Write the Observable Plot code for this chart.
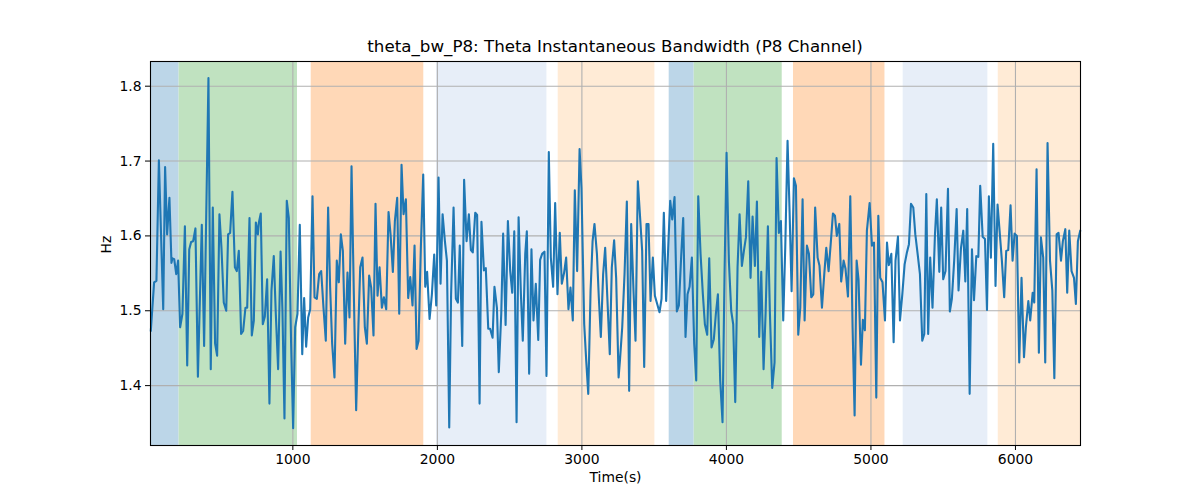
<!DOCTYPE html>
<html>
<head>
<meta charset="utf-8">
<script src="https://cdn.jsdelivr.net/npm/d3@7"></script>
<script src="https://cdn.jsdelivr.net/npm/@observablehq/plot@0.6"></script>
<style>
  body { margin: 0; background: white; font-family: "DejaVu Sans", sans-serif; }
  #wrap { width: 1200px; height: 500px; position: relative; }
  #title { position: absolute; left: 150px; width: 930px; top: 36px; text-align: center;
           font-size: 16.7px; line-height: 20px; color: black; }
  #chart { position: absolute; left: 0; top: 60px; }
</style>
</head>
<body>
<div id="wrap">
  <div id="title">theta_bw_P8: Theta Instantaneous Bandwidth (P8 Channel)</div>
  <div id="chart"></div>
</div>
<script>
const titleText = "theta_bw_P8: Theta Instantaneous Bandwidth (P8 Channel)";
const xLabel = "Time(s)";
const yLabel = "Hz";
const xTicks = [1000, 2000, 3000, 4000, 5000, 6000];
const yTicks = [1.4, 1.5, 1.6, 1.7, 1.8];
const xDomain = [15, 6450];
const yDomain = [1.32, 1.833];

const times = [
17,40,56,73,103,116,130,146,160,167,179,193,206,220,236,253,269,283,296,310,326,343,370,386,416,432,446,462,476,492,506,522,539,552,566,582,599,612,626,642,656,
672,684,700,716,730,744,758,765,778,792,806,822,838,852,868,882,898,915,928,942,958,972,988,1002,1016,1032,1048,1065,1078,1092,1106,1120,1136,1150,1166,1182,1196,1212,1228,1244,1258,1272,1288,1304,
1318,1332,1346,1362,1378,1392,1406,1422,1438,1454,1466,1482,1498,1512,1528,1542,1558,1572,1586,1600,1616,1630,1646,1662,1676,1692,1706,1722,1736,1752,1766,1782,1798,1812,1828,1842,1856,1870,1886,1902,1916,1929,1946,
1962,1978,1992,2008,2022,2036,2052,2066,2082,2095,2112,2128,2142,2155,2172,2185,2202,2218,2232,2245,2262,2275,2292,2305,2322,2335,2352,2365,2382,2395,2412,2425,2442,2455,2472,2488,2504,2518,2532,2548,2562,2578,2591,2608,
2619,2635,2651,2665,2681,2698,2711,2725,2741,2755,2771,2785,2801,2815,2831,2847,2861,2877,2891,2907,2921,2937,2951,2967,2984,2997,3016,3030,3044,3060,3074,3087,3104,3117,3131,3147,3161,3177,3193,3207,3223,3237,3254,
3263,3279,3295,3311,3327,3341,3357,3371,3387,3403,3417,3431,3447,3461,3475,3491,3505,3521,3537,3551,3567,3583,3599,3611,3625,3641,3657,3671,3687,3701,3717,3731,3745,3761,3777,3791,3805,3821,3837,3851,3867,3881,3897,
3913,3927,3941,3957,3973,3987,4001,4017,4033,4047,4061,4077,4091,4107,4121,4135,4151,4167,4181,4197,4211,4227,4241,4257,4271,4287,4301,4317,4333,4347,4363,4377,4393,4407,4423,4437,4451,4467,4481,4497,4511,4527,4541,4557,
4571,4587,4601,4614,4631,4644,4661,4677,4691,4707,4723,4737,4751,4764,4781,4794,4811,4824,4841,4857,4873,4887,4901,4914,4931,4944,4958,4972,4991,5007,5021,5037,5051,5064,5080,5097,5111,5124,5141,5157,5170,5187,5201,
5217,5233,5249,5263,5277,5293,5307,5323,5339,5355,5369,5383,5396,5410,5426,5443,5456,5473,5486,5500,5516,5533,5546,5560,5576,5593,5606,5623,5639,5653,5666,5683,5699,5713,5729,5743,5756,5773,5789,5803,5816,5830,5846,5862,
5876,5892,5906,5922,5936,5950,5966,5980,5994,6010,6026,6042,6059,6072,6089,6102,6119,6130,6146,6162,6176,6192,6206,6222,6239,6255,6269,6285,6298,6315,6328,6345,6358,6372,6388,6405,6418,6432,6448
];

const values = [
1.473,1.538,1.540,1.701,1.502,1.692,1.602,1.651,1.564,1.570,1.569,1.549,1.567,1.478,1.496,1.613,1.427,1.582,1.592,1.593,1.610,1.412,1.615,1.453,1.811,1.422,1.638,1.456,1.440,1.629,1.584,1.511,1.500,1.602,1.604,1.659,1.558,1.553,1.580,1.469,1.473,
1.504,1.504,1.624,1.467,1.487,1.618,1.602,1.618,1.630,1.482,1.492,1.542,1.376,1.527,1.573,1.496,1.422,1.579,1.500,1.356,1.647,1.624,1.456,1.343,1.478,1.496,1.615,1.442,1.517,1.452,1.491,1.502,1.653,1.518,1.516,1.549,1.553,1.504,1.460,1.638,1.531,1.456,1.411,1.567,
1.538,1.602,1.580,1.456,1.551,1.491,1.693,1.522,1.367,1.482,1.558,1.571,1.478,1.456,1.547,1.531,1.467,1.643,1.520,1.558,1.504,1.518,1.502,1.632,1.602,1.552,1.620,1.651,1.496,1.695,1.629,1.649,1.517,1.545,1.507,1.587,1.449,1.460,1.587,1.682,1.532,1.552,1.489,
1.522,1.575,1.507,1.678,1.536,1.629,1.593,1.567,1.344,1.522,1.638,1.516,1.511,1.587,1.453,1.675,1.593,1.629,1.581,1.578,1.631,1.628,1.376,1.619,1.554,1.557,1.476,1.476,1.464,1.532,1.504,1.418,1.496,1.603,1.481,1.620,1.553,1.524,1.606,1.351,1.625,1.522,1.460,1.576,
1.606,1.416,1.582,1.487,1.536,1.461,1.568,1.576,1.579,1.413,1.712,1.571,1.532,1.644,1.522,1.604,1.536,1.551,1.571,1.502,1.531,1.487,1.661,1.553,1.716,1.664,1.482,1.433,1.389,1.527,1.593,1.616,1.576,1.518,1.465,1.549,1.584,1.513,1.442,1.558,1.594,1.544,1.411,
1.433,1.478,1.549,1.646,1.393,1.616,1.527,1.460,1.673,1.624,1.580,1.425,1.616,1.616,1.513,1.571,1.520,1.509,1.498,1.516,1.631,1.513,1.593,1.647,1.622,1.652,1.499,1.507,1.573,1.624,1.465,1.522,1.532,1.571,1.456,1.407,1.653,1.576,1.522,1.482,1.468,1.570,1.451,
1.462,1.496,1.522,1.407,1.351,1.549,1.711,1.567,1.500,1.482,1.378,1.558,1.629,1.560,1.580,1.598,1.673,1.544,1.626,1.560,1.646,1.465,1.552,1.422,1.496,1.613,1.496,1.397,1.431,1.704,1.604,1.620,1.487,1.584,1.727,1.633,1.526,1.677,1.667,1.468,1.504,1.649,1.487,1.587,
1.576,1.518,1.522,1.638,1.571,1.560,1.504,1.549,1.584,1.553,1.593,1.630,1.627,1.600,1.616,1.539,1.567,1.556,1.519,1.653,1.478,1.360,1.567,1.542,1.428,1.488,1.474,1.607,1.644,1.587,1.591,1.384,1.627,1.544,1.538,1.487,1.591,1.561,1.576,1.458,1.567,1.599,1.487,
1.522,1.562,1.578,1.589,1.643,1.638,1.602,1.576,1.549,1.460,1.469,1.656,1.469,1.571,1.504,1.602,1.649,1.552,1.638,1.542,1.553,1.663,1.499,1.516,1.567,1.636,1.527,1.584,1.607,1.539,1.636,1.389,1.582,1.514,1.573,1.572,1.667,1.599,1.596,1.501,1.653,1.571,1.723,1.533,
1.642,1.602,1.567,1.518,1.580,1.581,1.641,1.567,1.603,1.600,1.431,1.544,1.438,1.478,1.513,1.487,1.524,1.511,1.689,1.444,1.598,1.571,1.431,1.724,1.567,1.527,1.410,1.602,1.604,1.567,1.593,1.609,1.524,1.607,1.553,1.544,1.509,1.593,1.607
];

const regionStart = [15, 213, 1127, 1995, 2836, 3604, 3777, 4464, 5223, 5881];
const regionEnd   = [213, 1032, 1906, 2758, 3505, 3777, 4386, 5097, 5809, 6450];
const regionKind  = ["blue", "green", "orange", "lightblue", "lightorange", "blue", "green", "orange", "lightblue", "lightorange"];
const kindColor = {blue: "#bcd6e8", green: "#c0e2c0", orange: "#ffd8b7", lightblue: "#e7eef8", lightorange: "#ffebd6"};

if (times.length !== values.length) console.error("length mismatch", times.length, values.length);
const n = Math.min(times.length, values.length);
const series = d3.range(n).map(i => ({t: times[i], v: values[i]}));
const regions = regionStart.map((s, i) => ({s, e: regionEnd[i], k: regionKind[i]}));

const chart = Plot.plot({
  width: 1200,
  height: 440,
  marginLeft: 150,
  marginRight: 120,
  marginTop: 1,
  marginBottom: 55,
  style: {fontFamily: "DejaVu Sans, sans-serif", fontSize: "13.9px", background: "white", color: "black", overflow: "visible"},
  x: {domain: xDomain},
  y: {domain: yDomain},
  marks: [
    Plot.rect(regions, {x1: "s", x2: "e", fill: d => kindColor[d.k]}),
    Plot.gridX(xTicks, {stroke: "#b0b0b0", strokeOpacity: 1, strokeWidth: 1.1}),
    Plot.gridY(yTicks, {stroke: "#b0b0b0", strokeOpacity: 1, strokeWidth: 1.1}),
    Plot.line(series, {x: "t", y: "v", stroke: "#1f77b4", strokeWidth: 2.1}),
    Plot.frame({stroke: "black", strokeWidth: 1.1}),
    Plot.axisX(xTicks, {tickSize: 5, tickPadding: 4, label: null, tickFormat: d => String(d), fontSize: 13.9}),
    Plot.axisY(yTicks, {tickSize: 5, tickPadding: 4, label: null, tickFormat: d => d.toFixed(1), fontSize: 13.9}),
    Plot.text([xLabel], {frameAnchor: "bottom", dy: 36, fontSize: 13.9}),
    Plot.text([yLabel], {frameAnchor: "left", dx: -44, rotate: -90, fontSize: 13.9})
  ]
});
document.getElementById("chart").appendChild(chart);
</script>
</body>
</html>
